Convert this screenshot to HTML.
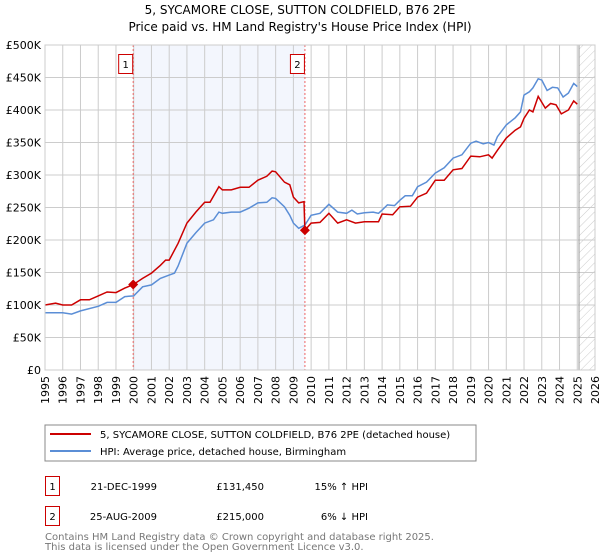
<!DOCTYPE html>
<html><head><meta charset="utf-8"><style>
body{margin:0;background:#fff;}
svg{display:block;font-family:"DejaVu Sans","Liberation Sans",sans-serif;}
</style></head><body>
<svg id="chart" width="600" height="560" viewBox="0 0 600 560">
<defs><pattern id="hatch" width="6" height="6" patternUnits="userSpaceOnUse" patternTransform="rotate(45)"><line x1="0" y1="0" x2="0" y2="6" stroke="#ccc" stroke-width="1"/></pattern></defs>
<text x="300" y="14" text-anchor="middle" font-size="12">5, SYCAMORE CLOSE, SUTTON COLDFIELD, B76 2PE</text>
<text x="300" y="31" text-anchor="middle" font-size="12">Price paid vs. HM Land Registry's House Price Index (HPI)</text>
<g id="plot"></g>
<rect x="45" y="425" width="431" height="36" fill="#fff" stroke="#888"/>
<line x1="50" y1="434" x2="91" y2="434" stroke="#cc0000" stroke-width="2"/>
<text x="100" y="438" font-size="10">5, SYCAMORE CLOSE, SUTTON COLDFIELD, B76 2PE (detached house)</text>
<line x1="50" y1="451" x2="91" y2="451" stroke="#5b8ed6" stroke-width="2"/>
<text x="100" y="455" font-size="10">HPI: Average price, detached house, Birmingham</text>
<g font-size="10">
<rect x="45.5" y="476.5" width="14" height="19" fill="none" stroke="#cc0000"/>
<text x="52.5" y="490" text-anchor="middle">1</text>
<text x="157" y="490" text-anchor="end">21-DEC-1999</text>
<text x="264" y="490" text-anchor="end">£131,450</text>
<text x="368" y="490" text-anchor="end">15% ↑ HPI</text>
<rect x="45.5" y="506.5" width="14" height="19" fill="none" stroke="#cc0000"/>
<text x="52.5" y="520" text-anchor="middle">2</text>
<text x="157" y="520" text-anchor="end">25-AUG-2009</text>
<text x="264" y="520" text-anchor="end">£215,000</text>
<text x="368" y="520" text-anchor="end">6% ↓ HPI</text>
</g>
<text x="45" y="540" font-size="10" fill="#777">Contains HM Land Registry data © Crown copyright and database right 2025.</text>
<text x="45" y="550" font-size="10" fill="#777">This data is licensed under the Open Government Licence v3.0.</text>
</svg>
<script>
const hpiYears=[1995,1996,1996.5,1997,1998,1998.5,1999,1999.5,2000,2000.5,2001,2001.5,2002,2002.3,2002.5,2003,2003.5,2004,2004.5,2004.8,2005,2005.5,2006,2006.5,2007,2007.5,2007.8,2008,2008.5,2008.8,2009,2009.3,2009.65,2010,2010.5,2011,2011.5,2012,2012.3,2012.6,2013,2013.5,2013.8,2014,2014.3,2014.7,2015,2015.3,2015.7,2016,2016.5,2017,2017.5,2018,2018.5,2019,2019.3,2019.7,2020,2020.3,2020.5,2021,2021.5,2021.8,2022,2022.3,2022.5,2022.8,2023,2023.3,2023.6,2023.9,2024.2,2024.5,2024.8,2025];
const hpiValues=[88,88,86,91,98,104,104,113,114,128,131,141,146,149,160,195,211,226,231,243,241,243,243,249,257,258,265,264,251,238,226,218,223,238,241,255,243,241,246,240,242,243,241,246,254,253,261,268,268,282,289,303,311,326,331,349,352,348,350,346,359,377,388,397,423,428,434,448,446,430,435,434,420,426,441,436];
const priceYears=[1995,1995.6,1996,1996.5,1997,1997.5,1998,1998.5,1999,1999.5,1999.97,2000.5,2001,2001.5,2001.8,2002,2002.5,2003,2003.5,2004,2004.3,2004.8,2005,2005.5,2006,2006.5,2007,2007.5,2007.8,2008,2008.5,2008.8,2009,2009.3,2009.6,2009.65,2010,2010.5,2011,2011.5,2012,2012.5,2013,2013.8,2014,2014.6,2015,2015.6,2016,2016.5,2017,2017.5,2018,2018.5,2019,2019.5,2020,2020.2,2020.5,2021,2021.5,2021.8,2022,2022.3,2022.5,2022.8,2023.2,2023.5,2023.8,2024.1,2024.5,2024.8,2025];
const priceValues=[100,103,100,100,108,108,114,120,119,126,131.45,141,149,161,169,169,195,226,243,258,258,282,277,277,281,281,292,298,306,305,289,285,266,257,259,215,226,227,241,226,231,226,228,228,240,239,251,252,266,272,292,292,308,310,329,328,331,326,338,357,369,374,387,400,397,421,403,410,408,394,400,414,409];
const saleYears=[1999.97,2009.65];
const saleValues=[131.45,215];
const saleLabels=["1","2"];
const yTicks=[0,50,100,150,200,250,300,350,400,450,500];
const yTickLabels=["£0","£50K","£100K","£150K","£200K","£250K","£300K","£350K","£400K","£450K","£500K"];
const xTicks=[1995,1996,1997,1998,1999,2000,2001,2002,2003,2004,2005,2006,2007,2008,2009,2010,2011,2012,2013,2014,2015,2016,2017,2018,2019,2020,2021,2022,2023,2024,2025,2026];
const L=45,R=595,T=45,B=370,x0=1995,x1=2026,yMax=500;
const sx=v=>L+(v-x0)/(x1-x0)*(R-L);
const sy=v=>B-v/yMax*(B-T);
const NS="http://www.w3.org/2000/svg";
const g=document.getElementById('plot');
function mk(tag,attrs,parent){const e=document.createElementNS(NS,tag);for(const k in attrs)e.setAttribute(k,attrs[k]);(parent||g).appendChild(e);return e;}
const shade=mk('rect',{x:sx(saleYears[0]),y:T,width:sx(saleYears[1])-sx(saleYears[0]),height:B-T,fill:'#eef2fc',opacity:0.7});


const hatch=mk('rect',{x:sx(2025.1),y:T,width:R-sx(2025.1),height:B-T,fill:'url(#hatch)'});


yTicks.forEach((t,i)=>{
  const ln=mk('line',{x1:L,x2:R,y1:sy(t),y2:sy(t),stroke:'#ccc','stroke-width':1});
  
  
  const tx=mk('text',{x:L-4,y:sy(t)+4,'text-anchor':'end','font-size':11});
  
  
  tx.textContent=yTickLabels[i];
});
xTicks.forEach(t=>{
  const ln=mk('line',{x1:sx(t),x2:sx(t),y1:T,y2:B,stroke:'#ccc','stroke-width':1});
  
  
  const tx=mk('text',{x:0,y:0,'text-anchor':'end','font-size':11,transform:`translate(${sx(t)+4},${B+6}) rotate(-90)`});
  
  
  tx.textContent=t;
});
const vline=mk('line',{x1:sx(2025.1),x2:sx(2025.1),y1:T,y2:B,stroke:'#999','stroke-width':1});


saleYears.forEach((y,i)=>{
  const ln=mk('line',{x1:sx(y),x2:sx(y),y1:T,y2:B,stroke:'#e66','stroke-width':1,'stroke-dasharray':'2,2'});
  
  
});
const pts=(xs,vs)=>xs.map((x,i)=>sx(x).toFixed(1)+','+sy(vs[i]).toFixed(1)).join(' ');
const hpi=mk('polyline',{points:pts(hpiYears,hpiValues),fill:'none',stroke:'#5b8ed6','stroke-width':1.5});


const pr=mk('polyline',{points:pts(priceYears,priceValues),fill:'none',stroke:'#cc0000','stroke-width':1.5});


saleYears.forEach((y,i)=>{
  const cx=sx(y),cy=sy(saleValues[i]);
  const d=mk('polygon',{points:`${cx},${cy-5} ${cx+5},${cy} ${cx},${cy+5} ${cx-5},${cy}`,fill:'#cc0000'});
  
  
  const bx=mk('rect',{x:cx-14.5,y:54.5,width:14,height:19,fill:'#fff',stroke:'#cc0000'});
  
  
  const t=mk('text',{x:cx-7.5,y:68,'text-anchor':'middle','font-size':10});
  
  
  t.textContent=saleLabels[i];
});
const border=mk('rect',{x:L,y:T,width:R-L,height:B-T,fill:'none',stroke:'#ccc'});


</script>
</body></html>
